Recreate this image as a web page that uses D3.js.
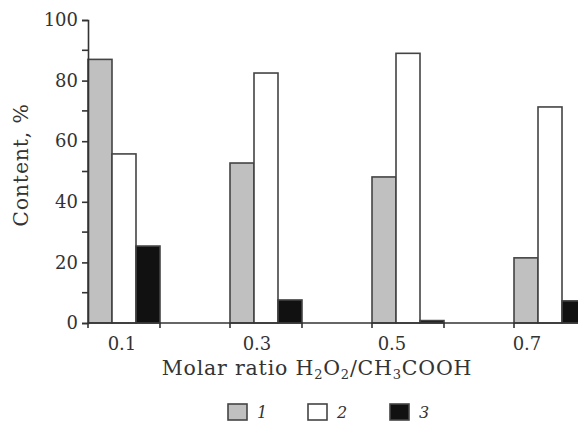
<!DOCTYPE html>
<html>
<head>
<meta charset="utf-8">
<script src="https://cdn.jsdelivr.net/npm/d3@7"></script>
<style>
  body { margin: 0; background: #fff; }
  text { font-family: "DejaVu Serif", serif; fill: #333; }
</style>
</head>
<body>
<script>
// molar ratio groups
var ratios = [0.1, 0.3, 0.5, 0.7];
var ratioLabels = ["0.1", "0.3", "0.5", "0.7"];
var seriesNames = ["1", "2", "3"];
// content, %
var series1 = [87, 52.8, 48.2, 21.5];
var series2 = [55.8, 82.5, 89, 71.3];
var series3 = [25.4, 7.6, 0.8, 7.3];
var yTicks = [0, 20, 40, 60, 80, 100];
var yMinor = [10, 30, 50, 70, 90];

var fills = ["#c0c0c0", "#ffffff", "#111111"];

var width = 578, height = 422;
var margin = {top: 20, left: 88, bottom: 99};
var plotH = height - margin.top - margin.bottom; // 0 at y=323

var svg = d3.select("body").append("svg")
    .attr("width", width)
    .attr("height", height);

var yScale = d3.scaleLinear()
    .domain([0, 100])
    .range([margin.top + plotH, margin.top]);

// each group is 72px wide, groups start every ~142px (last one runs off the edge)
var xGroup = d3.scaleBand()
    .domain(ratios)
    .range([88, 586])
    .paddingInner(0.493)
    .paddingOuter(0);

var xBar = d3.scaleBand()
    .domain([0, 1, 2])
    .range([0, xGroup.bandwidth()]);

// labels sit a little off the group centres in the original
var xLabel = d3.scaleLinear()
    .domain([0.1, 0.7])
    .range([122, 527]);

var data = ratios.map(function(r, i) {
  return {ratio: r, values: [series1[i], series2[i], series3[i]]};
});

// bars
var groups = svg.append("g").selectAll("g")
    .data(data)
    .enter().append("g")
    .attr("transform", function(d) { return "translate(" + xGroup(d.ratio) + ",0)"; });

groups.selectAll("rect")
    .data(function(d) { return d.values; })
    .enter().append("rect")
    .attr("x", function(d, i) { return xBar(i); })
    .attr("y", function(d) { return yScale(d); })
    .attr("width", xBar.bandwidth())
    .attr("height", function(d) { return yScale(0) - yScale(d); })
    .attr("fill", function(d, i) { return fills[i]; })
    .attr("stroke", "#444")
    .attr("stroke-width", 1.6);

// y axis
var yAxis = svg.append("g")
    .attr("transform", "translate(" + margin.left + ",0)")
    .call(d3.axisLeft(yScale).tickValues(yTicks).tickSize(6).tickFormat(d3.format("d")));
yAxis.select(".domain").attr("stroke", "#333").attr("stroke-width", 1.6);
yAxis.selectAll(".tick line").attr("stroke", "#333").attr("stroke-width", 1.6);
yAxis.selectAll(".tick text")
    .attr("font-size", 18)
    .attr("font-family", "DejaVu Serif")
    .attr("fill", "#333")
    .attr("x", -10);

svg.append("g").selectAll("line")
    .data(yMinor)
    .enter().append("line")
    .attr("x1", margin.left - 6)
    .attr("x2", margin.left)
    .attr("y1", function(d) { return yScale(d); })
    .attr("y2", function(d) { return yScale(d); })
    .attr("stroke", "#333")
    .attr("stroke-width", 1.6);

// x axis line with ticks at both edges of each group
svg.append("line")
    .attr("x1", margin.left)
    .attr("x2", width)
    .attr("y1", yScale(0))
    .attr("y2", yScale(0))
    .attr("stroke", "#333")
    .attr("stroke-width", 1.6);

var edges = [];
ratios.forEach(function(r) {
  edges.push(xGroup(r));
  edges.push(xGroup(r) + xGroup.bandwidth());
});
svg.append("g").selectAll("line")
    .data(edges)
    .enter().append("line")
    .attr("x1", function(d) { return d; })
    .attr("x2", function(d) { return d; })
    .attr("y1", yScale(0))
    .attr("y2", yScale(0) + 5)
    .attr("stroke", "#333")
    .attr("stroke-width", 1.6);

svg.append("g").selectAll("text")
    .data(ratios)
    .enter().append("text")
    .attr("x", function(d) { return xLabel(d); })
    .attr("y", 350)
    .attr("text-anchor", "middle")
    .attr("font-size", 18)
    .text(function(d, i) { return ratioLabels[i]; });

// x axis title with subscripts
var xt = svg.append("text")
    .attr("x", 317)
    .attr("y", 375)
    .attr("text-anchor", "middle")
    .attr("font-size", 20.5)
    .attr("letter-spacing", 0.8);
xt.append("tspan").text("Molar ratio H");
xt.append("tspan").attr("font-size", 13).attr("dy", 4).text("2");
xt.append("tspan").attr("dy", -4).text("O");
xt.append("tspan").attr("font-size", 13).attr("dy", 4).text("2");
xt.append("tspan").attr("dy", -4).text("/CH");
xt.append("tspan").attr("font-size", 13).attr("dy", 4).text("3");
xt.append("tspan").attr("dy", -4).text("COOH");

// y axis title
svg.append("text")
    .attr("transform", "translate(28,165) rotate(-90)")
    .attr("text-anchor", "middle")
    .attr("font-size", 20.5)
    .attr("letter-spacing", 0.8)
    .text("Content, %");

// legend
var legendX = [228, 308, 390];
var legend = svg.append("g").selectAll("g")
    .data(seriesNames)
    .enter().append("g")
    .attr("transform", function(d, i) { return "translate(" + legendX[i] + ",404)"; });
legend.append("rect")
    .attr("width", 19)
    .attr("height", 16)
    .attr("fill", function(d, i) { return fills[i]; })
    .attr("stroke", "#444")
    .attr("stroke-width", 1.6);
legend.append("text")
    .attr("x", 29)
    .attr("y", 14)
    .attr("font-size", 16)
    .attr("font-style", "italic")
    .text(function(d) { return d; });
</script>
</body>
</html>
